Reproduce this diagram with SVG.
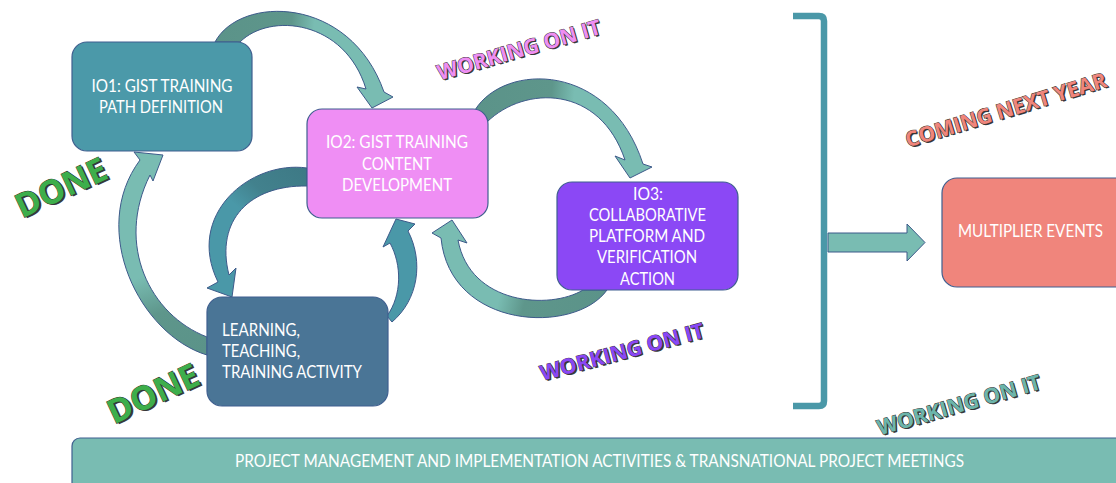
<svg xmlns="http://www.w3.org/2000/svg" width="1116" height="483" viewBox="0 0 1116 483">
  <defs>
    <style>
      .box { stroke: #3f5f8f; stroke-width: 1.2; }
      .lbl { font-family: Lato, "Open Sans", sans-serif; font-size: 16.5px; fill: #ffffff; }
      .arw { stroke: #3d5a8a; stroke-width: 1; stroke-linejoin: round; }
      .art { font-family: "Open Sans", "Liberation Sans", sans-serif; font-weight: bold; }
      .art .shd { fill: #3a3a3a; }
      .art .fg { stroke: #333333; stroke-width: 1; paint-order: stroke; }
    </style>
    <!-- arrow fills: darker tone at the tail, lighter towards the head -->
    <linearGradient id="g1" gradientUnits="userSpaceOnUse" x1="215" y1="40" x2="390" y2="60">
      <stop offset="0" stop-color="#5b9389"/>
      <stop offset="0.42" stop-color="#5e968b"/>
      <stop offset="0.55" stop-color="#79bcb2"/>
      <stop offset="1" stop-color="#79bcb2"/>
    </linearGradient>
    <linearGradient id="g2" gradientUnits="userSpaceOnUse" x1="475" y1="110" x2="650" y2="130">
      <stop offset="0" stop-color="#5b9389"/>
      <stop offset="0.42" stop-color="#5e968b"/>
      <stop offset="0.55" stop-color="#79bcb2"/>
      <stop offset="1" stop-color="#79bcb2"/>
    </linearGradient>
    <linearGradient id="g3" gradientUnits="userSpaceOnUse" x1="607" y1="290" x2="440" y2="250">
      <stop offset="0" stop-color="#5b9389"/>
      <stop offset="0.45" stop-color="#5e968b"/>
      <stop offset="0.6" stop-color="#79bcb2"/>
      <stop offset="1" stop-color="#79bcb2"/>
    </linearGradient>
    <linearGradient id="g5" gradientUnits="userSpaceOnUse" x1="307" y1="175" x2="215" y2="280">
      <stop offset="0" stop-color="#3e7a86"/>
      <stop offset="0.3" stop-color="#42818d"/>
      <stop offset="0.5" stop-color="#4a98a8"/>
      <stop offset="1" stop-color="#4a98a8"/>
    </linearGradient>
    <linearGradient id="g6" gradientUnits="userSpaceOnUse" x1="207" y1="350" x2="140" y2="160">
      <stop offset="0" stop-color="#5b9389"/>
      <stop offset="0.25" stop-color="#5e968b"/>
      <stop offset="0.45" stop-color="#79bcb2"/>
      <stop offset="1" stop-color="#79bcb2"/>
    </linearGradient>
  </defs>

  <rect width="1116" height="483" fill="#ffffff"/>

  <!-- connectors -->
  <g id="connectors">
    <!-- IO1 -> IO2 -->
    <path class="arw" fill="url(#g1)" d="M215,42 C240,-5 350,-5 384,92 L393,97 L372,108 L357,87 L366,89 C345,20 270,12 240,42 Z"/>
    <!-- IO2 -> IO3 -->
    <path class="arw" fill="url(#g2)" d="M475,110 C505,62 610,62 643,164 L652,167 L630,178 L615,156 L625,160 C600,85 525,85 487,122 Z"/>
    <!-- IO3 -> IO2 -->
    <path class="arw" fill="url(#g3)" d="M607,290 C575,335 450,330 441,238 L432,233 L452,220 L467,243 L458,240 C470,305 550,310 583,290 Z"/>
    <!-- Learning -> IO2 -->
    <path class="arw" fill="#4a98a8" d="M387,316 C402,295 402,265 390,243 L383,247 L396,219 L415,224 L408,231 C424,262 418,300 392,322 Z"/>
    <!-- IO2 -> Learning -->
    <path class="arw" fill="url(#g5)" d="M307,168 C250,160 185,215 218,282 L207,288 L232,297 L236,268 L229,275 C215,220 250,185 307,186 Z"/>
    <!-- Learning -> IO1 -->
    <path class="arw" fill="url(#g6)" d="M207,355 C140,335 88,230 140,160 L134,152 L163,155 L153,181 L150,175 C115,245 150,315 207,337 Z"/>
    <!-- bracket gathering the outputs -->
    <path d="M793,16 H819 Q824,16 824,21 V401 Q824,406 819,406 H793" fill="none" stroke="#4a98a8" stroke-width="6.5"/>
    <!-- bracket -> multiplier events -->
    <path class="arw" fill="#79bcb2" d="M828,233 H907 V224 L925,242.5 L907,261 V252 H828 Z"/>
  </g>

  <!-- nodes -->
  <g id="io1">
    <rect class="box" x="72" y="42" width="180" height="109" rx="15" fill="#4b99a9"/>
    <text class="lbl" text-anchor="middle" x="162" y="92" textLength="141" lengthAdjust="spacingAndGlyphs">IO1: GIST TRAINING</text>
    <text class="lbl" text-anchor="middle" x="161" y="113" textLength="124" lengthAdjust="spacingAndGlyphs">PATH DEFINITION</text>
  </g>

  <g id="io2">
    <rect class="box" x="307" y="109" width="181" height="109" rx="15" fill="#ef8ef4"/>
    <text class="lbl" text-anchor="middle" x="397" y="148" textLength="142" lengthAdjust="spacingAndGlyphs">IO2: GIST TRAINING</text>
    <text class="lbl" text-anchor="middle" x="397" y="170" textLength="70" lengthAdjust="spacingAndGlyphs">CONTENT</text>
    <text class="lbl" text-anchor="middle" x="397" y="191" textLength="110" lengthAdjust="spacingAndGlyphs">DEVELOPMENT</text>
  </g>

  <g id="io3">
    <rect class="box" x="557" y="182" width="181" height="108" rx="15" fill="#8b48f5"/>
    <text class="lbl" text-anchor="middle" x="648" y="200" textLength="30" lengthAdjust="spacingAndGlyphs">IO3:</text>
    <text class="lbl" text-anchor="middle" x="647.5" y="221" textLength="117" lengthAdjust="spacingAndGlyphs">COLLABORATIVE</text>
    <text class="lbl" text-anchor="middle" x="647" y="242" textLength="116" lengthAdjust="spacingAndGlyphs">PLATFORM AND</text>
    <text class="lbl" text-anchor="middle" x="647" y="263" textLength="100" lengthAdjust="spacingAndGlyphs">VERIFICATION</text>
    <text class="lbl" text-anchor="middle" x="647.5" y="285" textLength="55" lengthAdjust="spacingAndGlyphs">ACTION</text>
  </g>

  <g id="learning">
    <rect class="box" x="207" y="297" width="181" height="109" rx="15" fill="#4a7596"/>
    <text class="lbl" x="222" y="336" textLength="78" lengthAdjust="spacingAndGlyphs">LEARNING,</text>
    <text class="lbl" x="222" y="357" textLength="78" lengthAdjust="spacingAndGlyphs">TEACHING,</text>
    <text class="lbl" x="222" y="378" textLength="140" lengthAdjust="spacingAndGlyphs">TRAINING ACTIVITY</text>
  </g>

  <g id="multiplier">
    <rect class="box" x="942" y="178" width="190" height="109" rx="15" fill="#f0857c"/>
    <text class="lbl" text-anchor="middle" x="1030.5" y="237" textLength="145" lengthAdjust="spacingAndGlyphs">MULTIPLIER EVENTS</text>
  </g>

  <g id="management">
    <rect class="box" x="72" y="438" width="1060" height="60" rx="8" fill="#79bcb2"/>
    <text class="lbl" text-anchor="middle" x="599.5" y="467" textLength="729" lengthAdjust="spacingAndGlyphs">PROJECT MANAGEMENT AND IMPLEMENTATION ACTIVITIES &amp; TRANSNATIONAL PROJECT MEETINGS</text>
  </g>

  <!-- status stamps -->
  <g id="status-done-io1" class="art" transform="translate(66,198) rotate(-25)">
    <text class="shd" x="1.5" y="1.8" text-anchor="middle" font-size="33" textLength="97" lengthAdjust="spacingAndGlyphs">DONE</text>
    <text class="fg" x="0" y="0" text-anchor="middle" font-size="33" fill="#3dae4b" textLength="97" lengthAdjust="spacingAndGlyphs">DONE</text>
  </g>
  <g id="status-done-lta" class="art" transform="translate(158,404) rotate(-25)">
    <text class="shd" x="1.5" y="1.8" text-anchor="middle" font-size="33" textLength="97" lengthAdjust="spacingAndGlyphs">DONE</text>
    <text class="fg" x="0" y="0" text-anchor="middle" font-size="33" fill="#3dae4b" textLength="97" lengthAdjust="spacingAndGlyphs">DONE</text>
  </g>
  <g id="status-io2" class="art" transform="translate(521,57) rotate(-16)">
    <text class="shd" x="1.2" y="1.5" text-anchor="middle" font-size="21" textLength="169" lengthAdjust="spacingAndGlyphs">WORKING ON IT</text>
    <text class="fg" x="0" y="0" text-anchor="middle" font-size="21" fill="#ee8ef3" textLength="169" lengthAdjust="spacingAndGlyphs">WORKING ON IT</text>
  </g>
  <g id="status-io3" class="art" transform="translate(624,359) rotate(-15)">
    <text class="shd" x="1.2" y="1.5" text-anchor="middle" font-size="21" textLength="169" lengthAdjust="spacingAndGlyphs">WORKING ON IT</text>
    <text class="fg" x="0" y="0" text-anchor="middle" font-size="21" fill="#8a47f5" textLength="169" lengthAdjust="spacingAndGlyphs">WORKING ON IT</text>
  </g>
  <g id="status-management" class="art" transform="translate(961,412) rotate(-16)">
    <text class="shd" x="1.2" y="1.5" text-anchor="middle" font-size="21" textLength="169" lengthAdjust="spacingAndGlyphs">WORKING ON IT</text>
    <text class="fg" x="0" y="0" text-anchor="middle" font-size="21" fill="#6cb5ab" textLength="169" lengthAdjust="spacingAndGlyphs">WORKING ON IT</text>
  </g>
  <g id="status-multiplier" class="art" transform="translate(1008,117) rotate(-17)">
    <text class="shd" x="1.2" y="1.5" text-anchor="middle" font-size="21" textLength="209" lengthAdjust="spacingAndGlyphs">COMING NEXT YEAR</text>
    <text class="fg" x="0" y="0" text-anchor="middle" font-size="21" fill="#f0857b" textLength="209" lengthAdjust="spacingAndGlyphs">COMING NEXT YEAR</text>
  </g>
</svg>
